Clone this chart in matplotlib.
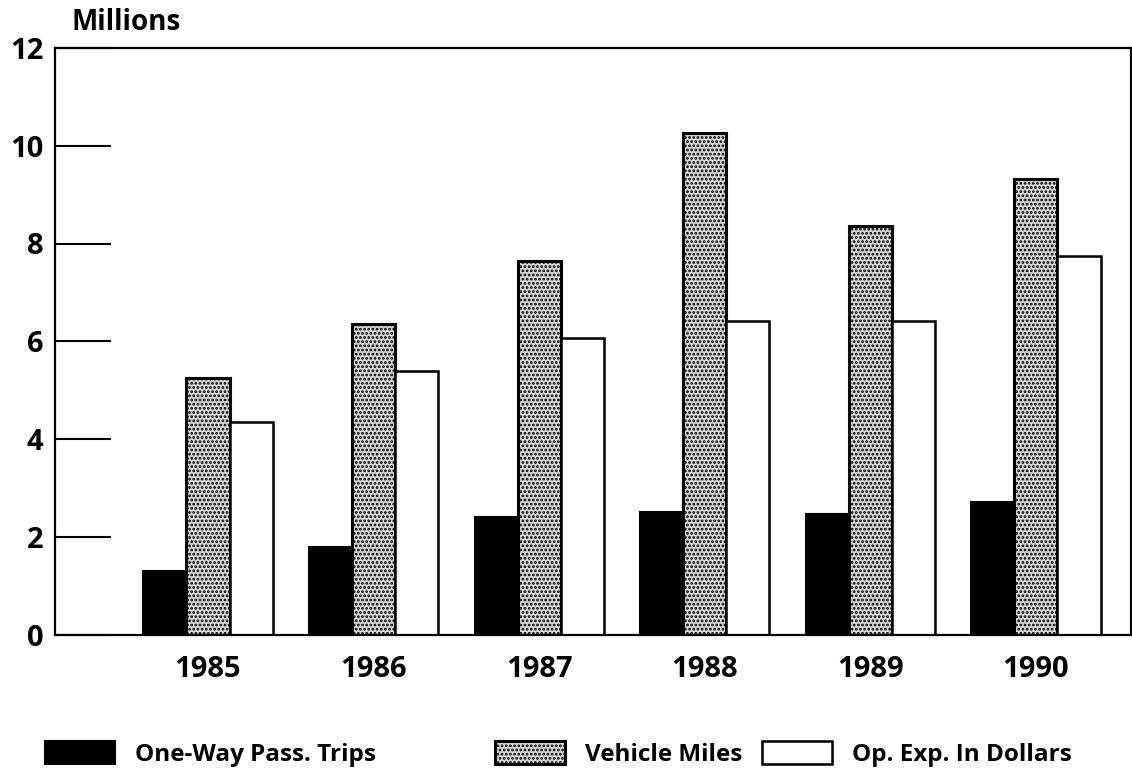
import numpy as np
import matplotlib
matplotlib.use('Agg')
import matplotlib.pyplot as plt

# data (millions)
years = ['1985', '1986', '1987', '1988', '1989', '1990']
pass_trips = [1.30, 1.79, 2.41, 2.51, 2.47, 2.72]
vehicle_miles = [5.24, 6.35, 7.64, 10.26, 8.35, 9.31]
op_exp = [4.34, 5.40, 6.06, 6.42, 6.42, 7.74]
series_names = ['One-Way Pass. Trips', 'Vehicle Miles', 'Op. Exp. In Dollars']

plt.rcParams['font.family'] = ['Open Sans', 'DejaVu Sans']
plt.rcParams['hatch.linewidth'] = 1.3

fig = plt.figure(figsize=(11.32, 7.71), dpi=100)
ax = fig.add_axes([55/1132, 136.5/771, 1076/1132, 586.5/771])

x = np.arange(len(years))
w = 0.26
b1 = ax.bar(x - w, pass_trips, w, color='black', edgecolor='black', linewidth=1.5)
b2 = ax.bar(x, vehicle_miles, w, color='#d4d4d4', edgecolor='black', linewidth=2.2, hatch='....')
b3 = ax.bar(x + w, op_exp, w, color='white', edgecolor='black', linewidth=1.8)

ax.set_xlim(-0.924, 5.574)
ax.set_ylim(0, 12)
ax.set_yticks(range(0, 13, 2))
ax.set_xticks(x)
ax.set_xticklabels(years)
ax.tick_params(axis='y', direction='in', length=40, width=1.5, pad=8.5, labelsize=21)
ax.tick_params(axis='x', length=0, pad=15, labelsize=21)
for lbl in ax.get_yticklabels() + ax.get_xticklabels():
    lbl.set_fontweight('bold')
for s in ax.spines.values():
    s.set_linewidth(1.6)

fig.text(71/1132, 1 - 22/771, 'Millions', fontsize=20, fontweight='bold', va='center', ha='left')

# legend entries placed one by one along the bottom
legend_x = [45/1132, 495/1132, 762/1132]
for bars, name, lx in zip([b1, b2, b3], series_names, legend_x):
    fig.legend(handles=[bars], labels=[name], loc='center left',
               bbox_to_anchor=(lx, 1 - 754/771), frameon=False,
               prop={'size': 17.5, 'weight': 'bold'},
               handlelength=2.9, handleheight=1.1, handletextpad=0.8,
               borderpad=0, borderaxespad=0)

fig.savefig('out.png', dpi=100)
